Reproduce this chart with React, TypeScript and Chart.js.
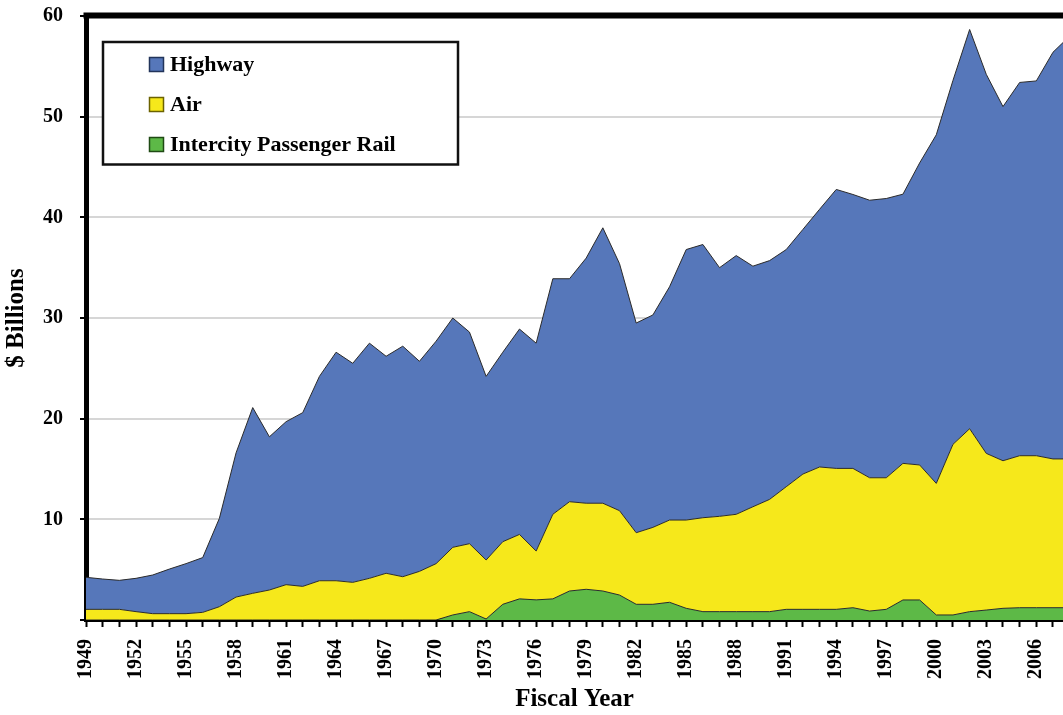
import React, { useEffect, useRef } from 'react';
import { Chart, registerables } from 'chart.js';

Chart.register(...registerables);

// Fiscal years shown on the x axis
const years = [
  1949, 1950, 1951, 1952, 1953, 1954, 1955, 1956, 1957, 1958,
  1959, 1960, 1961, 1962, 1963, 1964, 1965, 1966, 1967, 1968,
  1969, 1970, 1971, 1972, 1973, 1974, 1975, 1976, 1977, 1978,
  1979, 1980, 1981, 1982, 1983, 1984, 1985, 1986, 1987, 1988,
  1989, 1990, 1991, 1992, 1993, 1994, 1995, 1996, 1997, 1998,
  1999, 2000, 2001, 2002, 2003, 2004, 2005, 2006, 2007, 2008,
];

// $ billions per mode (stacked: rail at bottom, then air, then highway)
const railValues = [
  0, 0, 0, 0, 0, 0, 0, 0, 0, 0,
  0, 0, 0, 0, 0, 0, 0, 0, 0, 0,
  0, 0, 0.5, 0.83, 0.1, 1.56, 2.1, 2.0, 2.1, 2.88,
  3.05, 2.88, 2.48, 1.56, 1.56, 1.76, 1.16, 0.83, 0.83, 0.83,
  0.83, 0.83, 1.06, 1.06, 1.06, 1.06, 1.22, 0.89, 1.06, 1.99,
  1.99, 0.5, 0.5, 0.83, 0.99, 1.16, 1.22, 1.22, 1.22, 1.22,
];

const airValues = [
  1.06, 1.06, 1.06, 0.83, 0.63, 0.63, 0.63, 0.76, 1.32, 2.28,
  2.65, 2.98, 3.51, 3.34, 3.9, 3.9, 3.74, 4.14, 4.64, 4.3,
  4.83, 5.6, 6.72, 6.75, 5.86, 6.22, 6.4, 4.85, 8.4, 8.87,
  8.55, 8.72, 8.38, 7.11, 7.64, 8.17, 8.77, 9.33, 9.47, 9.67,
  10.42, 11.15, 12.18, 13.44, 14.14, 14.0, 13.84, 13.24, 13.07, 13.57,
  13.41, 13.07, 16.95, 18.17, 15.56, 14.66, 15.1, 15.1, 14.78, 14.78,
];

const highwayValues = [
  3.18, 3.01, 2.88, 3.31, 3.84, 4.43, 4.97, 5.44, 8.78, 14.32,
  18.45, 15.22, 16.19, 17.26, 20.3, 22.7, 21.76, 23.36, 21.56, 22.9,
  20.87, 22.1, 22.78, 21.02, 18.24, 18.82, 20.4, 20.65, 23.4, 22.15,
  24.35, 27.36, 24.54, 20.83, 21.1, 23.17, 26.87, 27.14, 24.7, 25.7,
  23.9, 23.72, 23.56, 24.3, 25.6, 27.71, 27.21, 27.57, 27.74, 26.74,
  30.0, 34.63, 36.15, 39.66, 37.65, 35.18, 37.08, 37.23, 40.4, 42.0,
];

const seriesNames = ['Highway', 'Air', 'Intercity Passenger Rail'];
const seriesColors = ['#5677BA', '#F6E81B', '#5DB947'];
const seriesEdgeColors = ['#22345A', '#6B6200', '#1F4A14'];

const yMin = 0;
const yMax = 60;
const yStep = 10;
const xFirst = 1949;
const xVisibleEnd = 2007.6;
const xLabelEvery = 3;

const FONT = "'Liberation Serif', 'Times New Roman', serif";

const toPoints = (vals: number[]) => years.map((yr, i) => ({ x: yr, y: vals[i] }));

const frameAndLegend = {
  id: 'frameAndLegend',
  afterDraw(chart: any) {
    const { ctx, chartArea } = chart;
    ctx.save();
    // thick top frame line
    ctx.fillStyle = '#000';
    ctx.fillRect(chartArea.left - 2.5, chartArea.top - 3.5, chartArea.right - chartArea.left + 3, 6);

    // legend box inside plot
    const bx = chartArea.left + 17;
    const by = chartArea.top + 26;
    const bw = 355;
    const bh = 122.5;
    ctx.fillStyle = '#fff';
    ctx.fillRect(bx, by, bw, bh);
    ctx.lineWidth = 2.5;
    ctx.strokeStyle = '#111';
    ctx.strokeRect(bx, by, bw, bh);

    ctx.font = `bold 22px ${FONT}`;
    ctx.textBaseline = 'alphabetic';
    ctx.textAlign = 'left';
    seriesNames.forEach((name, i) => {
      const cy = by + 22.5 + i * 40;
      const mx = bx + 46.5;
      ctx.fillStyle = seriesColors[i];
      ctx.fillRect(mx, cy - 7, 14, 14);
      ctx.lineWidth = 1.5;
      ctx.strokeStyle = seriesEdgeColors[i];
      ctx.strokeRect(mx, cy - 7, 14, 14);
      ctx.fillStyle = '#000';
      ctx.fillText(name, bx + 67, cy + 6.5);
    });
    ctx.restore();
  },
};

export default function App() {
  const canvasRef = useRef<HTMLCanvasElement | null>(null);

  useEffect(() => {
    if (!canvasRef.current) return;
    const chart = new Chart(canvasRef.current, {
      type: 'line',
      data: {
        datasets: [
          {
            label: seriesNames[2],
            data: toPoints(railValues),
            backgroundColor: seriesColors[2],
            fill: 'origin',
          },
          {
            label: seriesNames[1],
            data: toPoints(airValues),
            backgroundColor: seriesColors[1],
            fill: '-1',
          },
          {
            label: seriesNames[0],
            data: toPoints(highwayValues),
            backgroundColor: seriesColors[0],
            fill: '-1',
          },
        ],
      },
      options: {
        responsive: false,
        animation: false,
        devicePixelRatio: 1,
        layout: { padding: { top: 16, left: 0, right: 0, bottom: 0 } },
        plugins: {
          legend: { display: false },
          tooltip: { enabled: false },
        },
        elements: {
          point: { radius: 0, hoverRadius: 0 },
          line: { tension: 0, borderWidth: 1, borderColor: '#2a2a2a' },
        },
        scales: {
          x: {
            type: 'linear',
            min: xFirst,
            max: xVisibleEnd,
            ticks: {
              stepSize: 1,
              maxTicksLimit: 200,
              autoSkip: false,
              includeBounds: false,
              minRotation: 90,
              maxRotation: 90,
              padding: 12,
              color: '#000',
              font: { family: FONT, size: 20, weight: 'bold' },
              callback: (v: any) => {
                const n = Number(v);
                return Number.isInteger(n) && (n - xFirst) % xLabelEvery === 0 ? String(n) : '';
              },
            },
            grid: {
              drawOnChartArea: false,
              drawTicks: true,
              tickLength: 7,
              tickColor: '#000',
              tickWidth: 2,
            },
            border: { display: true, color: '#000', width: 4 },
            title: {
              display: true,
              text: 'Fiscal Year',
              color: '#000',
              font: { family: FONT, size: 25, weight: 'bold' },
              padding: { top: 0, bottom: 0 },
            },
            afterFit: (s: any) => {
              s.height = 95;
              s.paddingLeft = 0;
              s.paddingRight = 0;
            },
          } as any,
          y: {
            stacked: true,
            min: yMin,
            max: yMax,
            ticks: {
              stepSize: yStep,
              padding: 17,
              color: '#000',
              font: { family: FONT, size: 20, weight: 'bold' },
              callback: (v: any) => (Number(v) === 0 ? '' : String(v)),
            },
            grid: {
              color: '#d6d6d6',
              lineWidth: 2,
              drawTicks: true,
              tickLength: 6,
              tickColor: '#000',
              tickWidth: 2,
            },
            border: { display: true, color: '#000', width: 5 },
            title: {
              display: true,
              text: '$ Billions',
              color: '#000',
              font: { family: FONT, size: 25, weight: 'bold' },
              padding: { top: 2, bottom: 0 },
            },
            afterFit: (s: any) => {
              s.width = 86;
              s.paddingTop = 0;
              s.paddingBottom = 0;
            },
          } as any,
        },
      },
      plugins: [frameAndLegend],
    });
    return () => chart.destroy();
  }, []);

  return (
    <div
      style={{
        position: 'fixed',
        left: 0,
        top: 0,
        width: 1063,
        height: 715,
        overflow: 'hidden',
        background: '#fff',
      }}
    >
      <canvas ref={canvasRef} width={1063} height={715} style={{ display: 'block' }} />
    </div>
  );
}
